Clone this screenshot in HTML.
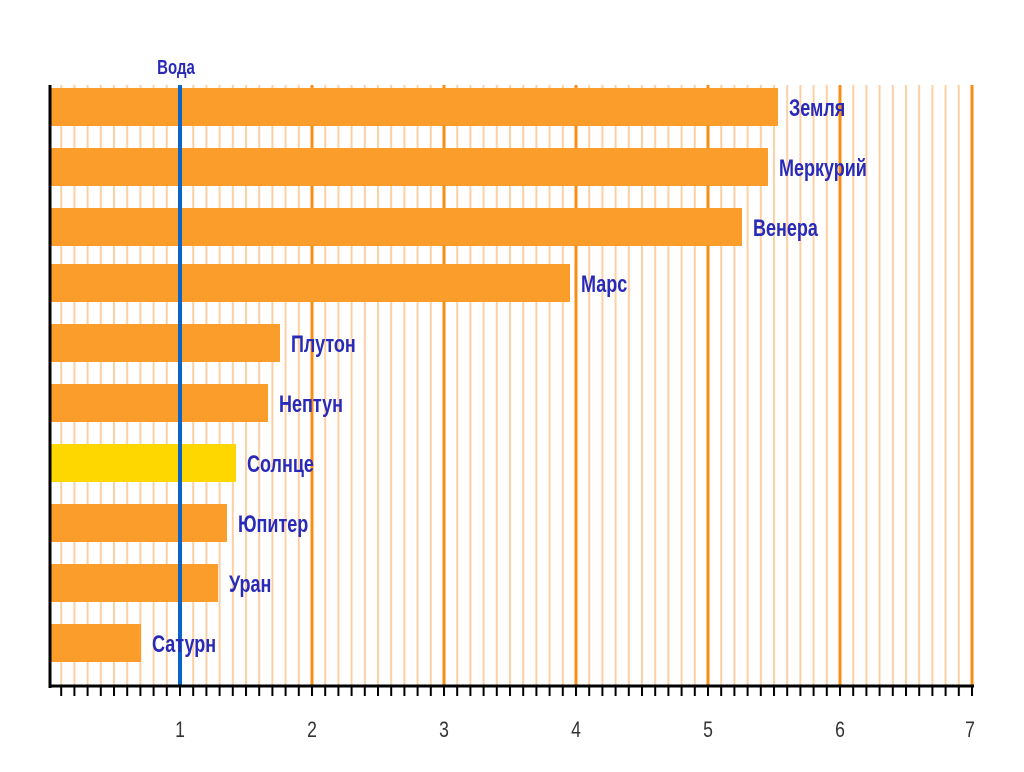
<!DOCTYPE html>
<html><head><meta charset="utf-8"><style>body{margin:0;background:#fff}</style></head><body>
<svg width="1024" height="767" xmlns="http://www.w3.org/2000/svg" font-family="Liberation Sans, sans-serif">
<defs>
<pattern id="thin" patternUnits="userSpaceOnUse" x="47" y="0" width="13.2" height="10"><rect x="0" y="0" width="2" height="10" fill="#fcd0a4"/></pattern>
<pattern id="tick" patternUnits="userSpaceOnUse" x="47" y="0" width="13.2" height="10"><rect x="0" y="0" width="2" height="10" fill="#000"/></pattern>
</defs>
<rect x="52" y="85" width="922" height="601" fill="url(#thin)"/>
<g stroke="#fb8c14" stroke-width="3">
<line x1="312" y1="85" x2="312" y2="686"/><line x1="444" y1="85" x2="444" y2="686"/><line x1="576" y1="85" x2="576" y2="686"/><line x1="708" y1="85" x2="708" y2="686"/><line x1="840" y1="85" x2="840" y2="686"/><line x1="972" y1="85" x2="972" y2="686"/>
</g>
<g fill="#fb9d2a">
<rect x="51" y="88" width="727" height="38"/>
<rect x="51" y="148" width="717" height="38"/>
<rect x="51" y="208" width="691" height="38"/>
<rect x="51" y="264" width="519" height="38"/>
<rect x="51" y="324" width="229" height="38"/>
<rect x="51" y="384" width="217" height="38"/>
<rect x="51" y="444" width="185" height="38" fill="#ffd700"/>
<rect x="51" y="504" width="176" height="38"/>
<rect x="51" y="564" width="167" height="38"/>
<rect x="51" y="624" width="90" height="38"/>
</g>
<line x1="180" y1="85" x2="180" y2="686" stroke="#0a64c8" stroke-width="4"/>
<g font-size="24" fill="#2a2ab8" font-weight="bold">
<text transform="translate(789,116) scale(0.75,1)">Земля</text>
<text transform="translate(779,176) scale(0.75,1)">Меркурий</text>
<text transform="translate(753,236) scale(0.75,1)">Венера</text>
<text transform="translate(581,292) scale(0.75,1)">Марс</text>
<text transform="translate(291,352) scale(0.75,1)">Плутон</text>
<text transform="translate(279,412) scale(0.75,1)">Нептун</text>
<text transform="translate(247,472) scale(0.75,1)">Солнце</text>
<text transform="translate(238,532) scale(0.75,1)">Юпитер</text>
<text transform="translate(229,592) scale(0.75,1)">Уран</text>
<text transform="translate(152,652) scale(0.75,1)">Сатурн</text>
<text transform="translate(176,74) scale(0.75,1)" font-size="20" text-anchor="middle">Вода</text>
</g>
<line x1="50" y1="85" x2="50" y2="688" stroke="#000" stroke-width="3"/>
<line x1="49" y1="686" x2="974" y2="686" stroke="#000" stroke-width="3"/>
<rect x="59" y="686" width="916" height="10" fill="url(#tick)"/>
<g font-size="22" fill="#333" text-anchor="middle">
<text transform="translate(180,737) scale(0.8,1)">1</text>
<text transform="translate(312,737) scale(0.8,1)">2</text>
<text transform="translate(444,737) scale(0.8,1)">3</text>
<text transform="translate(576,737) scale(0.8,1)">4</text>
<text transform="translate(708,737) scale(0.8,1)">5</text>
<text transform="translate(840,737) scale(0.8,1)">6</text>
<text transform="translate(970,737) scale(0.8,1)">7</text>
</g>
</svg>
</body></html>
